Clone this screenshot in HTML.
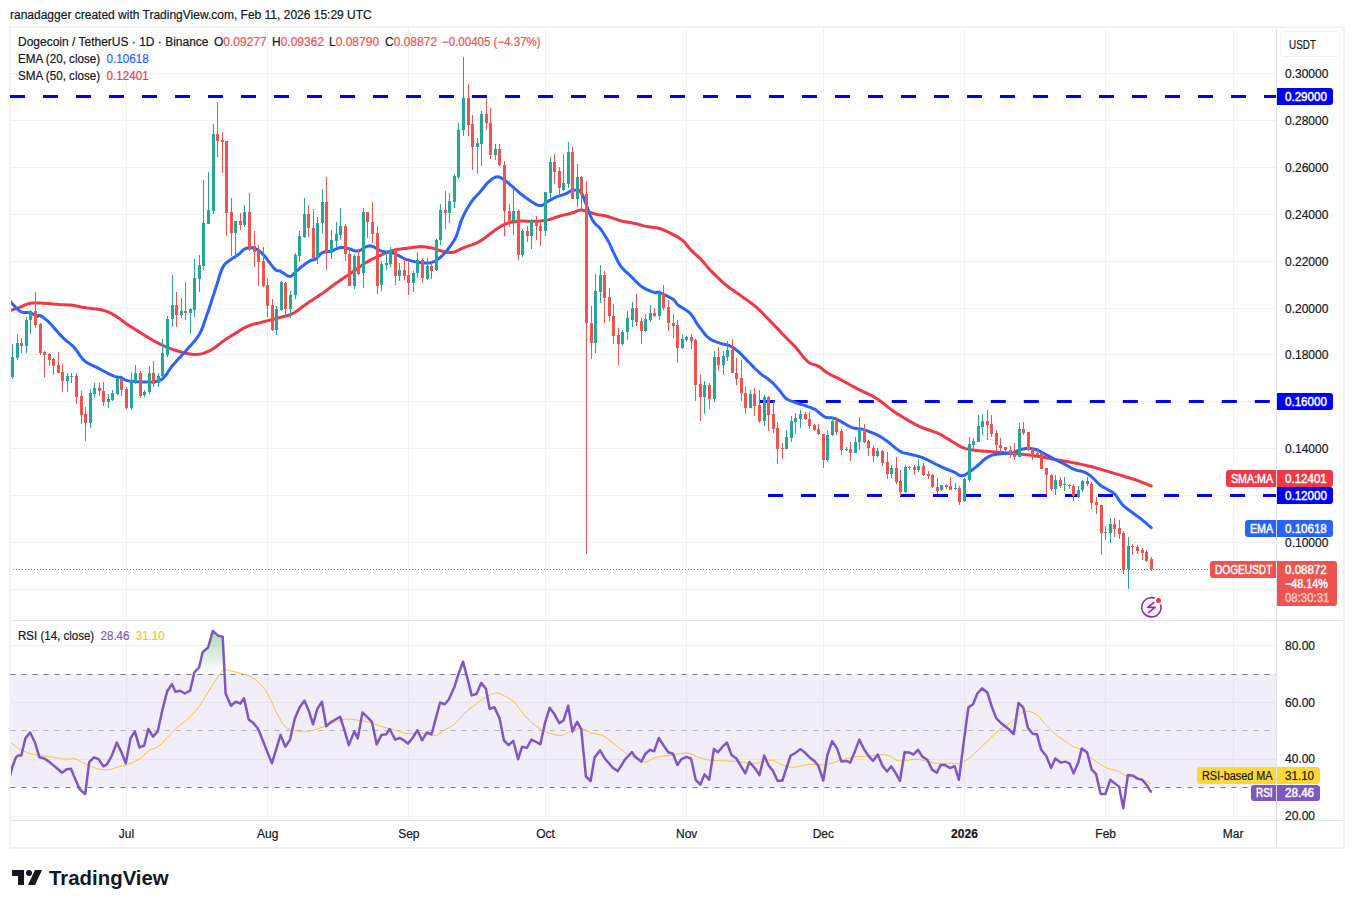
<!DOCTYPE html>
<html><head><meta charset="utf-8"><style>
html,body{margin:0;padding:0;background:#fff;width:1354px;height:908px;overflow:hidden}
body{position:relative;font-family:"Liberation Sans",sans-serif;color:#131722}
.t{position:absolute;white-space:pre;font-size:12px;line-height:14px;-webkit-text-stroke:0.2px currentColor}
.b{position:absolute;white-space:pre;font-size:12px;text-align:center}
svg{position:absolute;left:0;top:0}
.r{color:#ef5350}
</style></head><body>
<div class="t" style="left:10px;top:8px">ranadagger created with TradingView.com, Feb 11, 2026 15:29 UTC</div>
<div style="position:absolute;left:9px;top:26px;width:1332px;height:819px;border:2px solid #f2f2f2"></div>
<svg width="1354" height="908" viewBox="0 0 1354 908">
<line x1="11" x2="1276" y1="73.5" y2="73.5" stroke="#f2f2f3"/>
<line x1="11" x2="1276" y1="120.5" y2="120.5" stroke="#f2f2f3"/>
<line x1="11" x2="1276" y1="167.5" y2="167.5" stroke="#f2f2f3"/>
<line x1="11" x2="1276" y1="214.5" y2="214.5" stroke="#f2f2f3"/>
<line x1="11" x2="1276" y1="261.5" y2="261.5" stroke="#f2f2f3"/>
<line x1="11" x2="1276" y1="308.5" y2="308.5" stroke="#f2f2f3"/>
<line x1="11" x2="1276" y1="354.5" y2="354.5" stroke="#f2f2f3"/>
<line x1="11" x2="1276" y1="401.5" y2="401.5" stroke="#f2f2f3"/>
<line x1="11" x2="1276" y1="448.5" y2="448.5" stroke="#f2f2f3"/>
<line x1="11" x2="1276" y1="495.5" y2="495.5" stroke="#f2f2f3"/>
<line x1="11" x2="1276" y1="542.5" y2="542.5" stroke="#f2f2f3"/>
<line x1="11" x2="1276" y1="589.5" y2="589.5" stroke="#f2f2f3"/>
<line x1="11" x2="1276" y1="645.5" y2="645.5" stroke="#f2f2f3"/>
<line x1="11" x2="1276" y1="702.5" y2="702.5" stroke="#f2f2f3"/>
<line x1="11" x2="1276" y1="759.5" y2="759.5" stroke="#f2f2f3"/>
<line x1="11" x2="1276" y1="816.5" y2="816.5" stroke="#f2f2f3"/>
<line x1="126.5" x2="126.5" y1="27" y2="820" stroke="#f2f2f3"/>
<line x1="267.5" x2="267.5" y1="27" y2="820" stroke="#f2f2f3"/>
<line x1="408.5" x2="408.5" y1="27" y2="820" stroke="#f2f2f3"/>
<line x1="545.5" x2="545.5" y1="27" y2="820" stroke="#f2f2f3"/>
<line x1="686.5" x2="686.5" y1="27" y2="820" stroke="#f2f2f3"/>
<line x1="823.5" x2="823.5" y1="27" y2="820" stroke="#f2f2f3"/>
<line x1="964.5" x2="964.5" y1="27" y2="820" stroke="#f2f2f3"/>
<line x1="1105.5" x2="1105.5" y1="27" y2="820" stroke="#f2f2f3"/>
<line x1="1233.5" x2="1233.5" y1="27" y2="820" stroke="#f2f2f3"/>
<rect x="11" y="674" width="1265" height="113" fill="#7e57c2" fill-opacity="0.1"/>
<line x1="10.5" x2="1276" y1="674.5" y2="674.5" stroke="#787b86" stroke-opacity="1" stroke-dasharray="5 6"/>
<line x1="10.5" x2="1276" y1="730.5" y2="730.5" stroke="#787b86" stroke-opacity="0.5" stroke-dasharray="5 6"/>
<line x1="10.5" x2="1276" y1="787.5" y2="787.5" stroke="#787b86" stroke-opacity="1" stroke-dasharray="5 6"/>
<line x1="10" x2="1276" y1="96.5" y2="96.5" stroke="#0000ff" stroke-width="3" stroke-dasharray="15 18"/>
<line x1="759.8" x2="1276" y1="401.5" y2="401.5" stroke="#0000ff" stroke-width="3" stroke-dasharray="15 18"/>
<line x1="768" x2="1276" y1="495.5" y2="495.5" stroke="#0000ff" stroke-width="3" stroke-dasharray="15 18"/>
<line x1="13" x2="1209" y1="569.5" y2="569.5" stroke="#ef5350" stroke-dasharray="1 2"/>
<defs><clipPath id="mainclip"><rect x="11" y="28" width="1265" height="592"/></clipPath><clipPath id="rsiclip"><rect x="11" y="621" width="1265" height="199"/></clipPath></defs>
<g clip-path="url(#mainclip)">
<polyline points="10,310.6 10.9,310.3 12.2,309.9 13.7,309.4 15.4,308.9 17.2,308.3 18.9,307.6 20.7,306.9 22.6,306.1 24.5,305.2 26.5,304.4 28.6,303.7 30.8,303.2 33.1,302.9 35.6,302.9 38.1,303 40.6,303.1 43.2,303.3 45.7,303.5 48.2,303.6 50.8,303.8 53.3,304.1 55.8,304.3 58.3,304.5 60.6,304.7 62.7,304.8 64.8,304.8 66.7,304.9 68.6,305 70.5,305.1 72.5,305.3 74.4,305.6 76.2,305.9 78,306.3 80,306.8 82,307.2 84.4,307.6 87.1,308 90.1,308.3 93.3,308.7 96.5,309 99.5,309.5 102.2,310 104.5,310.6 106.5,311.3 108.3,312.1 110.1,312.9 112,313.9 114.1,315.1 116.4,316.5 119,318.3 121.5,320.1 124.1,322 126.6,323.9 129,325.5 131.1,326.9 133.1,328.1 134.9,329.3 136.8,330.4 138.8,331.6 140.9,332.9 143.2,334.4 145.6,335.9 148.1,337.4 150.7,339 153.2,340.5 155.7,341.9 158.2,343.1 160.6,344.4 163,345.5 165.4,346.6 168,347.7 170.6,348.7 173.5,349.7 176.6,350.7 179.7,351.6 182.8,352.5 185.8,353.2 188.5,353.7 190.8,354.1 192.9,354.4 194.8,354.5 196.6,354.5 198.4,354.3 200.4,354 202.3,353.6 204.3,353 206.3,352.2 208.3,351.4 210.3,350.4 212.3,349.3 214.2,348 216.2,346.6 218.2,345 220.2,343.4 222.2,341.8 224.2,340.4 226.1,339 228.1,337.8 230.1,336.5 232.1,335.3 234.1,334.1 236.1,332.9 238,331.7 239.9,330.5 241.8,329.3 243.8,328.1 245.8,327.1 248,326.1 250.3,325.2 252.7,324.5 255.2,323.8 257.8,323.2 260.3,322.6 262.8,321.9 265.3,321.3 267.8,320.6 270.3,320 272.7,319.4 275.2,318.7 277.7,318.1 280.2,317.4 282.7,316.8 285.1,316.2 287.6,315.5 290.1,314.7 292.6,313.6 295,312.2 297.5,310.5 300,308.7 302.5,306.8 305,305 307.4,303.2 309.9,301.5 312.4,299.9 314.9,298.3 317.4,296.7 319.8,295.1 322.3,293.4 324.8,291.6 327.3,289.7 329.8,287.9 332.2,286 334.7,284.1 337.2,282.4 339.6,280.7 342.1,279 344.5,277.4 347,275.8 349.4,274.2 351.9,272.5 354.4,270.8 357,268.9 359.5,267.1 362,265.3 364.5,263.6 366.8,262.1 368.9,260.9 370.8,259.8 372.7,258.9 374.6,258 376.5,257.1 378.7,256.2 381,255.1 383.4,254 385.9,252.9 388.5,251.9 391,251 393.5,250.2 396.1,249.6 398.6,249.2 401.2,248.9 403.7,248.6 406.1,248.4 408.4,248.1 410.6,247.8 412.6,247.5 414.5,247.2 416.5,246.9 418.4,246.7 420.3,246.6 422.3,246.7 424.3,246.8 426.3,247.1 428.2,247.4 430.2,247.7 432.2,248.1 434.2,248.6 436.3,249.3 438.3,250 440.4,250.6 442.3,251.2 444.1,251.7 445.7,252 447.2,252.3 448.6,252.5 449.9,252.6 451.4,252.6 453,252.3 454.8,251.8 456.7,251.1 458.6,250.2 460.6,249.2 462.7,248.2 464.9,247.2 467.2,246.4 469.4,245.6 471.8,244.9 474.3,244 476.9,242.8 479.8,241.3 483,239.2 486.5,236.6 490.2,233.8 493.9,231 497.4,228.4 500.6,226.4 503.4,224.9 506,223.8 508.4,223 510.8,222.3 513.1,221.8 515.5,221.4 518,221.1 520.4,221 522.9,221.1 525.4,221.2 527.9,221.3 530.4,221.4 532.8,221.3 535.3,221.3 537.8,221.2 540.3,221.1 542.8,220.8 545.2,220.5 547.7,219.9 550.3,219.2 552.9,218.4 555.4,217.5 557.8,216.7 560.1,216 562.3,215.4 564.4,214.9 566.4,214.4 568.4,214 570.2,213.5 572,213 573.7,212.5 575.2,211.8 576.7,211.2 578.1,210.6 579.5,210.2 580.9,210.1 582.4,210.1 583.9,210.5 585.5,210.9 587,211.5 588.4,212 589.9,212.4 591.2,212.8 592.5,213.2 593.8,213.6 595,214 596.3,214.3 597.7,214.6 599.1,214.9 600.5,215.1 602,215.3 603.5,215.5 605.1,215.8 607,216.2 609,216.8 611.2,217.6 613.6,218.4 616,219.3 618.5,220.1 620.8,220.8 623.2,221.4 625.5,221.8 627.9,222.2 630.2,222.6 632.5,223 634.7,223.4 636.9,223.9 638.9,224.5 641,225 643,225.6 645,226.1 647.1,226.5 649.1,226.9 651.2,227.1 653.2,227.4 655.3,227.6 657.3,228 659.4,228.5 661.5,229.2 663.6,230 665.7,230.9 667.7,231.9 669.8,232.9 671.7,233.9 673.6,234.9 675.5,235.9 677.3,236.8 679.1,237.9 680.8,239.1 682.5,240.4 684.2,241.9 685.7,243.7 687.2,245.5 688.7,247.4 690.2,249.2 691.8,250.9 693.3,252.4 694.9,253.8 696.4,255.1 697.9,256.4 699.5,257.8 701,259.4 702.5,261 703.9,262.7 705.3,264.4 706.7,266.2 708.4,268.1 710.3,270.2 712.5,272.4 715,274.9 717.7,277.5 720.4,280.1 723.1,282.6 725.7,284.8 728.1,286.7 730.4,288.5 732.7,290.1 735,291.7 737.3,293.2 739.6,294.8 741.9,296.5 744.4,298.2 746.8,299.9 749.2,301.6 751.4,303.3 753.5,304.9 755.1,306.2 756.4,307.2 757.5,308.2 758.7,309.4 760.4,311 762.7,313.3 766,316.7 770,320.9 774.4,325.5 778.9,330.1 782.9,334.4 786.2,337.7 788.5,340.1 790.2,341.7 791.5,343 792.6,344.1 793.9,345.3 795.4,347 797.3,349.2 799.4,351.8 801.5,354.6 803.6,357.3 805.8,359.7 807.8,361.6 809.7,363 811.5,363.8 813.3,364.4 815.1,364.9 816.9,365.5 818.6,366.3 820.1,367.3 821.6,368.4 823,369.6 824.4,370.8 826,372 827.8,373.2 829.8,374.3 832,375.5 834.4,376.6 836.8,377.7 839.2,378.9 841.7,380.1 844.1,381.5 846.6,382.8 849.1,384.2 851.7,385.7 854.3,387.1 857.1,388.6 860,390.1 863.2,391.6 866.4,393.1 869.6,394.6 872.7,396.2 875.6,397.9 878.4,399.7 881.2,401.8 883.9,403.8 886.5,405.9 888.8,407.8 891,409.4 892.8,410.7 894.2,411.7 895.5,412.6 896.7,413.4 898.3,414.4 900.3,415.6 902.9,417.2 905.9,419 909.1,420.9 912.5,422.8 915.8,424.6 918.8,426.1 921.6,427.4 924.5,428.5 927.3,429.5 929.9,430.3 932.2,431.1 934.2,431.8 935.7,432.3 936.7,432.7 937.5,433 938.1,433.3 938.9,433.6 940,434.2 941.3,434.9 942.8,435.8 944.3,436.7 946,437.8 947.7,438.8 949.6,439.9 951.6,441.2 953.9,442.5 956.2,444 958.6,445.4 960.9,446.6 963,447.6 965.1,448.4 967,448.9 968.8,449.4 970.7,449.7 972.6,450 974.6,450.3 976.7,450.6 979,450.8 981.4,451 983.7,451.2 986,451.3 988,451.5 989.8,451.6 991.3,451.7 992.7,451.8 994.1,452 995.7,452.1 997.6,452.2 999.9,452.4 1002.4,452.6 1005,452.8 1007.8,453 1010.4,453.2 1013,453.4 1015.3,453.6 1017.6,453.8 1019.8,454 1022,454.2 1024.2,454.5 1026.4,454.7 1028.6,455 1030.8,455.3 1033,455.6 1035.2,455.9 1037.5,456.3 1039.8,456.6 1042.3,457.1 1044.7,457.5 1047.2,458 1049.7,458.5 1052.4,459 1055.2,459.5 1058.2,460.1 1061.5,460.6 1064.8,461.2 1068.2,461.8 1071.4,462.4 1074.4,463 1077.2,463.5 1079.9,464.1 1082.4,464.6 1084.9,465.1 1087.4,465.7 1089.8,466.2 1092.1,466.8 1094.2,467.4 1096.2,468 1098.4,468.6 1100.7,469.3 1103.2,470.1 1106.1,470.9 1109.3,471.9 1112.7,472.9 1116.1,473.9 1119.4,474.9 1122.4,475.8 1125.2,476.7 1127.9,477.5 1130.5,478.3 1132.9,479 1135.4,479.8 1137.8,480.6 1140.3,481.6 1142.9,482.6 1145.5,483.6 1147.8,484.6 1149.8,485.4 1151.2,486" fill="none" stroke="#f23645" stroke-width="3" stroke-linejoin="round" stroke-linecap="round"/>
<polyline points="10,301.1 10.6,301.8 11.5,302.9 12.6,304.1 13.7,305.4 14.9,306.6 15.9,307.6 16.9,308.5 17.8,309.4 18.7,310.2 19.7,311 20.7,311.6 21.9,312.1 23.2,312.4 24.8,312.6 26.4,312.6 28,312.6 29.5,312.7 30.8,313 32,313.5 33.1,314.2 34.2,314.9 35.1,315.6 36,316.2 36.8,316.6 37.4,316.6 37.8,316.3 38.2,315.8 38.6,315.5 39.2,315.3 40,315.5 41.1,316.1 42.4,316.9 43.8,317.8 45.4,319.1 47.1,320.5 48.9,322.2 50.8,324.2 53,326.6 55.3,329.3 57.7,332 60,334.6 62.2,336.9 64.2,338.9 66.3,340.6 68.2,342.2 70.2,343.8 72.1,345.4 74,347.3 75.7,349.4 77.4,351.7 79,354.1 80.6,356.4 82.4,358.6 84.3,360.6 86.5,362.2 88.9,363.7 91.4,365 94,366.2 96.6,367.4 99.1,368.7 101.6,370 104.3,371.4 106.9,372.8 109.5,374.1 111.8,375.2 113.9,376.1 115.5,376.6 116.9,376.9 118.1,377.1 119.2,377.2 120.2,377.3 121.2,377.5 122.2,378 122.9,378.5 123.6,379 124.5,379.6 125.6,380.1 127.1,380.5 129.2,380.9 131.7,381.2 134.5,381.6 137.5,381.8 140.5,382 143.4,382 146.3,382 149.4,382 152.5,381.9 155.6,381.6 158.5,380.9 161.1,379.8 163.4,378 165.4,375.8 167.2,373.3 169,370.5 170.9,367.7 172.9,365 175.3,362.4 177.8,359.6 180.3,356.9 182.9,354.1 185.4,351.4 187.7,348.7 189.9,346.2 192,343.9 194.1,341.5 196,339.2 197.8,336.7 199.5,334 201,331.1 202.3,328.1 203.4,325 204.5,321.8 205.7,318.4 206.9,314.8 208.3,310.9 209.7,306.8 211.1,302.5 212.5,298.1 213.9,293.9 215.2,289.8 216.5,285.8 217.8,281.6 219,277.5 220.2,273.7 221.4,270.3 222.7,267.5 223.9,265.4 225.1,263.9 226.3,262.7 227.5,261.9 228.8,261 230.1,260.1 231.5,259 233.1,257.9 234.7,256.9 236.2,256 237.7,255 239,254.1 240.2,253.1 241.1,252.1 242,251.1 242.9,250.2 243.9,249.4 245,248.8 246.3,248.3 247.7,248 249.3,247.7 250.8,247.7 252.4,247.8 253.9,248.2 255.4,248.7 256.8,249.3 258.2,250.2 259.6,251.2 261.2,252.5 262.8,254.1 264.7,256.2 266.8,258.9 269,261.8 271.1,264.6 273.1,267.1 274.7,269 276,270.1 277,270.6 277.9,270.8 278.7,270.8 279.6,270.9 280.7,271.4 282,272.2 283.5,273.2 285.1,274.3 286.7,275.3 288.2,276.1 289.6,276.4 290.7,276.3 291.7,275.7 292.6,275 293.5,274 294.4,273 295.5,272 296.9,270.8 298.4,269.6 300,268.2 301.6,266.8 303.1,265.6 304.5,264.5 305.6,263.6 306.7,262.9 307.6,262.2 308.5,261.7 309.5,261.1 310.4,260.6 311.4,260.2 312.4,260 313.4,259.7 314.4,259.5 315.4,259.1 316.4,258.6 317.3,257.7 318.2,256.7 319.2,255.6 320.1,254.4 321.2,253.4 322.3,252.6 323.6,252.1 325.1,251.9 326.6,251.7 328.2,251.6 329.7,251.4 331.2,251.1 332.7,250.6 334.2,249.9 335.7,249.2 337.2,248.5 338.7,247.9 340.2,247.6 341.6,247.5 343.1,247.6 344.5,247.8 346,248.1 347.5,248.4 348.9,248.7 350.4,249.1 351.8,249.7 353.2,250.3 354.6,250.8 356.2,251.1 357.8,251.1 359.7,250.5 361.6,249.5 363.6,248.2 365.7,247 367.7,246.1 369.7,245.7 371.7,246.1 373.7,246.9 375.7,248 377.7,249.2 379.7,250.3 381.6,251.1 383.6,251.6 385.6,251.9 387.6,252.1 389.6,252.3 391.6,252.6 393.5,253.2 395.5,254 397.5,255 399.5,256.1 401.5,257.2 403.5,258.3 405.4,259.1 407.4,259.8 409.4,260.4 411.4,260.9 413.4,261.4 415.4,261.8 417.3,262.1 419.4,262.4 421.4,262.7 423.5,263 425.5,263.1 427.4,263.1 429.2,263 430.9,262.7 432.4,262.2 433.9,261.7 435.3,261 436.7,260.1 438.2,259.1 439.6,258 441.1,256.7 442.6,255.3 444.1,253.7 445.6,252 447.1,250.2 448.6,248.3 450.2,246.2 451.7,244.1 453.2,241.8 454.7,239.4 456,236.8 457.1,234.1 458.1,231.1 459,228.1 459.9,225 460.8,221.9 462,219 463.3,216.1 464.7,213.2 466.2,210.3 467.8,207.6 469.4,205 470.9,202.6 472.4,200.5 473.8,198.7 475.3,197 476.8,195.5 478.3,193.9 479.8,192.2 481.3,190.4 482.8,188.5 484.3,186.7 485.7,184.9 487.2,183.2 488.7,181.8 490.2,180.5 491.7,179.3 493.2,178.3 494.7,177.5 496.2,176.9 497.6,176.7 499.1,177 500.6,177.6 502.1,178.5 503.6,179.6 505.1,180.7 506.6,181.8 508.1,182.9 509.5,184.1 511,185.4 512.5,186.7 514,188 515.5,189.2 516.9,190.5 518.2,191.7 519.6,192.9 521,194.1 522.6,195.3 524.4,196.7 526.6,198.2 529.2,200 531.9,201.9 534.5,203.6 537.1,204.9 539.3,205.6 541.1,205.6 542.7,205.1 544.1,204.2 545.5,203.1 546.8,202 548.2,201.1 549.7,200.4 551.2,199.6 552.7,198.8 554.2,198 555.6,197.3 557.1,196.7 558.7,196.1 560.2,195.6 561.8,195.1 563.3,194.6 564.7,194.2 566.1,193.7 567.2,193.1 568.1,192.5 569,191.9 569.9,191.4 570.9,191 572,190.7 573.3,190.5 574.8,190.1 576.3,189.9 577.8,190 579.4,190.7 580.9,192.2 582.5,194.9 584.1,198.6 585.6,202.9 587.2,207.3 588.6,211.3 589.9,214.5 590.9,216.8 591.7,218.5 592.4,219.8 593.1,220.9 593.8,222 594.6,223.1 595.6,224.2 596.5,225.1 597.5,226 598.6,226.9 599.7,227.9 600.8,229.3 602,231 603.4,233 604.7,235.2 606.1,237.5 607.4,239.6 608.5,241.6 609.4,243.4 610.2,245 610.8,246.5 611.5,248.1 612.2,249.7 613.1,251.7 614.2,253.9 615.4,256.4 616.7,259 618,261.7 619.4,264.1 620.8,266.3 622.3,268.1 623.7,269.7 625.2,271.1 626.7,272.5 628.4,273.9 630.1,275.6 632,277.4 634,279.5 636.1,281.6 638.2,283.6 640.3,285.5 642.4,287.1 644.6,288.4 646.8,289.6 649.1,290.5 651.2,291.4 653.2,292 654.8,292.5 655.9,292.8 656.5,292.7 657,292.4 657.4,292.2 658.2,292.2 659.4,292.5 661.3,293.3 663.7,294.4 666.3,295.7 669,297 671.4,298.3 673.3,299.5 674.5,300.4 675.2,301.3 675.7,302.1 676.1,302.9 676.8,303.8 677.9,304.9 679.6,306.1 681.6,307.3 683.9,308.7 686.2,310.2 688.4,311.7 690.2,313.3 691.7,315.1 693,316.9 694.2,318.8 695.3,320.8 696.5,322.9 697.9,324.9 699.5,327.1 701.3,329.4 703.1,331.8 704.9,334.2 706.8,336.3 708.7,338 710.7,339.4 712.7,340.5 714.8,341.4 716.8,342.1 718.7,342.7 720.6,343.4 722.2,343.9 723.8,344.2 725.2,344.5 726.6,344.8 728,345.2 729.5,345.7 731,346.5 732.5,347.4 734,348.3 735.4,349.4 736.9,350.5 738.4,351.7 739.9,353 741.3,354.3 742.7,355.8 744.1,357.3 745.7,358.9 747.3,360.6 749.1,362.5 751.1,364.5 753.1,366.6 755.2,368.7 757.2,370.7 759.2,372.5 761.3,374.2 763.3,375.7 765.4,377.1 767.4,378.5 769.3,380 771.1,381.4 772.8,383 774.4,384.6 775.9,386.3 777.4,387.9 778.7,389.4 780,390.9 781.1,392.4 782.1,393.8 783.1,395.1 784,396.4 785,397.6 786.2,398.6 787.5,399.5 789,400.2 790.5,400.8 792.1,401.4 793.8,401.9 795.4,402.5 797.1,403.1 799,403.7 800.8,404.3 802.7,404.9 804.5,405.4 806.2,406 807.8,406.6 809.4,407.1 810.9,407.7 812.4,408.3 813.9,408.9 815.5,409.7 817,410.8 818.6,412.1 820.2,413.5 821.7,414.8 823.3,416 824.7,416.8 826.1,417.4 827.5,417.6 828.8,417.7 830,417.7 831.3,417.7 832.4,417.9 833.5,418.2 834.4,418.4 835.2,418.7 836.1,419.1 837.2,419.6 838.6,420.2 840.4,421.2 842.5,422.4 844.8,423.7 847,425.1 849.2,426.3 850.9,427.2 852.3,427.7 853.4,428.1 854.4,428.3 855.3,428.5 856.1,428.6 857.1,428.7 858,428.8 858.9,428.9 859.7,428.9 860.6,428.9 861.8,429.1 863.3,429.5 865.2,430.1 867.4,430.9 869.9,431.8 872.5,432.8 874.9,433.8 877.1,434.9 879.1,435.9 880.9,437 882.6,438.1 884.3,439.3 886.1,440.5 887.9,441.8 889.9,443.3 892,445.1 894.1,446.8 896.2,448.6 898.3,450.1 900.3,451.4 902.1,452.3 903.9,452.9 905.7,453.3 907.4,453.6 909.2,454 911.1,454.5 913,455 914.9,455.4 916.9,455.9 918.9,456.5 921.1,457.1 923.4,458 926,459.2 929,460.6 932,462.1 935,463.7 937.7,465.1 940,466.2 941.8,467.1 943.2,467.7 944.4,468.2 945.5,468.6 946.5,469 947.7,469.5 949,470 950.4,470.6 951.8,471.1 953.1,471.6 954.3,472.1 955.4,472.6 956.2,473.1 956.9,473.6 957.5,474.1 958,474.6 958.6,475 959.2,475.3 959.9,475.5 960.7,475.6 961.4,475.7 962.2,475.7 963.1,475.5 964,475.3 965,474.8 966.1,474.2 967.2,473.5 968.3,472.8 969.5,471.9 970.7,471 971.9,470.1 973.2,469.2 974.5,468.1 975.8,467.1 977.1,466 978.4,464.9 979.7,463.8 981,462.6 982.2,461.4 983.5,460.2 984.8,459.1 986.1,458.2 987.3,457.4 988.5,456.7 989.7,456.1 990.9,455.6 992.3,455.1 993.8,454.7 995.5,454.4 997.5,454.1 999.5,453.9 1001.6,453.7 1003.5,453.5 1005.3,453.4 1006.8,453.3 1008.1,453.2 1009.4,453.2 1010.5,453.2 1011.7,453 1013,452.8 1014.2,452.4 1015.5,451.8 1016.8,451.2 1018.1,450.6 1019.4,450 1020.6,449.5 1021.9,449.2 1023.2,448.9 1024.5,448.7 1025.8,448.5 1027,448.4 1028.3,448.4 1029.6,448.4 1030.9,448.5 1032.2,448.7 1033.4,448.9 1034.7,449.2 1036,449.5 1037.2,450 1038.4,450.5 1039.6,451.1 1040.8,451.8 1042.2,452.6 1043.7,453.4 1045.4,454.3 1047.3,455.3 1049.3,456.4 1051.4,457.5 1053.4,458.6 1055.2,459.5 1056.9,460.4 1058.5,461.2 1060.1,462 1061.7,462.7 1063.2,463.5 1064.8,464.3 1066.4,465.2 1068,466.1 1069.6,467.1 1071.2,468 1072.8,468.8 1074.4,469.5 1076,470.1 1077.7,470.5 1079.3,470.8 1081,471.1 1082.5,471.5 1084,472 1085.4,472.6 1086.7,473.3 1088,474.1 1089.2,474.9 1090.4,475.8 1091.7,476.8 1093,478 1094.2,479.3 1095.5,480.6 1096.8,482 1098.1,483.3 1099.4,484.5 1100.7,485.5 1101.9,486.3 1103.2,487.1 1104.5,487.8 1105.8,488.5 1107.1,489.3 1108.3,490 1109.6,490.7 1110.9,491.3 1112.2,492.1 1113.5,493 1114.7,494.1 1116,495.5 1117.2,497.3 1118.5,499.2 1119.7,501.1 1121,503 1122.4,504.6 1123.9,506.1 1125.5,507.4 1127.1,508.7 1128.7,509.9 1130.4,511.1 1132,512.3 1133.6,513.5 1135.2,514.7 1136.8,515.8 1138.4,517 1140,518.2 1141.6,519.4 1143.3,520.8 1145.2,522.4 1147,524 1148.7,525.5 1150.2,526.8 1151.2,527.7" fill="none" stroke="#2962ff" stroke-width="3" stroke-linejoin="round" stroke-linecap="round"/>
<rect x="12" y="344" width="1" height="35" fill="#26a69a"/>
<rect x="11" y="357" width="3" height="20" fill="#26a69a"/>
<rect x="17" y="334" width="1" height="26" fill="#26a69a"/>
<rect x="16" y="343" width="3" height="15" fill="#26a69a"/>
<rect x="21" y="338" width="1" height="15" fill="#ef5350"/>
<rect x="20" y="343" width="3" height="3" fill="#ef5350"/>
<rect x="26" y="317" width="1" height="36" fill="#26a69a"/>
<rect x="25" y="320" width="3" height="26" fill="#26a69a"/>
<rect x="30" y="310" width="1" height="24" fill="#26a69a"/>
<rect x="29" y="311" width="3" height="9" fill="#26a69a"/>
<rect x="35" y="292" width="1" height="36" fill="#ef5350"/>
<rect x="34" y="311" width="3" height="14" fill="#ef5350"/>
<rect x="40" y="323" width="1" height="32" fill="#ef5350"/>
<rect x="39" y="324" width="3" height="29" fill="#ef5350"/>
<rect x="44" y="351" width="1" height="26" fill="#ef5350"/>
<rect x="43" y="352" width="3" height="3" fill="#ef5350"/>
<rect x="49" y="353" width="1" height="13" fill="#ef5350"/>
<rect x="48" y="354" width="3" height="6" fill="#ef5350"/>
<rect x="53" y="358" width="1" height="17" fill="#ef5350"/>
<rect x="52" y="359" width="3" height="7" fill="#ef5350"/>
<rect x="58" y="352" width="1" height="21" fill="#ef5350"/>
<rect x="57" y="365" width="3" height="8" fill="#ef5350"/>
<rect x="62" y="364" width="1" height="28" fill="#ef5350"/>
<rect x="61" y="372" width="3" height="9" fill="#ef5350"/>
<rect x="67" y="373" width="1" height="19" fill="#26a69a"/>
<rect x="66" y="376" width="3" height="5" fill="#26a69a"/>
<rect x="71" y="373" width="1" height="10" fill="#26a69a"/>
<rect x="70" y="376" width="3" height="1" fill="#26a69a"/>
<rect x="76" y="373" width="1" height="31" fill="#ef5350"/>
<rect x="75" y="376" width="3" height="21" fill="#ef5350"/>
<rect x="81" y="391" width="1" height="33" fill="#ef5350"/>
<rect x="80" y="396" width="3" height="19" fill="#ef5350"/>
<rect x="85" y="407" width="1" height="34" fill="#ef5350"/>
<rect x="84" y="414" width="3" height="9" fill="#ef5350"/>
<rect x="90" y="389" width="1" height="39" fill="#26a69a"/>
<rect x="89" y="393" width="3" height="30" fill="#26a69a"/>
<rect x="94" y="383" width="1" height="15" fill="#26a69a"/>
<rect x="93" y="388" width="3" height="6" fill="#26a69a"/>
<rect x="99" y="383" width="1" height="13" fill="#ef5350"/>
<rect x="98" y="388" width="3" height="3" fill="#ef5350"/>
<rect x="103" y="382" width="1" height="24" fill="#ef5350"/>
<rect x="102" y="391" width="3" height="11" fill="#ef5350"/>
<rect x="108" y="394" width="1" height="14" fill="#26a69a"/>
<rect x="107" y="399" width="3" height="3" fill="#26a69a"/>
<rect x="112" y="390" width="1" height="11" fill="#26a69a"/>
<rect x="111" y="393" width="3" height="7" fill="#26a69a"/>
<rect x="117" y="378" width="1" height="17" fill="#26a69a"/>
<rect x="116" y="378" width="3" height="16" fill="#26a69a"/>
<rect x="121" y="378" width="1" height="18" fill="#ef5350"/>
<rect x="120" y="379" width="3" height="11" fill="#ef5350"/>
<rect x="126" y="387" width="1" height="22" fill="#ef5350"/>
<rect x="125" y="389" width="3" height="19" fill="#ef5350"/>
<rect x="131" y="372" width="1" height="38" fill="#26a69a"/>
<rect x="130" y="381" width="3" height="27" fill="#26a69a"/>
<rect x="135" y="365" width="1" height="19" fill="#26a69a"/>
<rect x="134" y="373" width="3" height="9" fill="#26a69a"/>
<rect x="140" y="371" width="1" height="27" fill="#ef5350"/>
<rect x="139" y="373" width="3" height="23" fill="#ef5350"/>
<rect x="144" y="390" width="1" height="7" fill="#26a69a"/>
<rect x="143" y="392" width="3" height="3" fill="#26a69a"/>
<rect x="149" y="366" width="1" height="28" fill="#26a69a"/>
<rect x="148" y="373" width="3" height="19" fill="#26a69a"/>
<rect x="153" y="361" width="1" height="26" fill="#ef5350"/>
<rect x="152" y="373" width="3" height="11" fill="#ef5350"/>
<rect x="158" y="373" width="1" height="14" fill="#26a69a"/>
<rect x="157" y="376" width="3" height="7" fill="#26a69a"/>
<rect x="162" y="339" width="1" height="39" fill="#26a69a"/>
<rect x="161" y="353" width="3" height="23" fill="#26a69a"/>
<rect x="167" y="316" width="1" height="41" fill="#26a69a"/>
<rect x="166" y="319" width="3" height="36" fill="#26a69a"/>
<rect x="172" y="275" width="1" height="52" fill="#26a69a"/>
<rect x="171" y="305" width="3" height="14" fill="#26a69a"/>
<rect x="176" y="292" width="1" height="35" fill="#ef5350"/>
<rect x="175" y="305" width="3" height="10" fill="#ef5350"/>
<rect x="181" y="298" width="1" height="20" fill="#26a69a"/>
<rect x="180" y="311" width="3" height="4" fill="#26a69a"/>
<rect x="185" y="282" width="1" height="38" fill="#ef5350"/>
<rect x="184" y="311" width="3" height="2" fill="#ef5350"/>
<rect x="190" y="308" width="1" height="26" fill="#26a69a"/>
<rect x="189" y="309" width="3" height="4" fill="#26a69a"/>
<rect x="194" y="259" width="1" height="58" fill="#26a69a"/>
<rect x="193" y="278" width="3" height="32" fill="#26a69a"/>
<rect x="199" y="255" width="1" height="37" fill="#26a69a"/>
<rect x="198" y="265" width="3" height="14" fill="#26a69a"/>
<rect x="203" y="180" width="1" height="90" fill="#26a69a"/>
<rect x="202" y="223" width="3" height="43" fill="#26a69a"/>
<rect x="208" y="172" width="1" height="52" fill="#26a69a"/>
<rect x="207" y="210" width="3" height="14" fill="#26a69a"/>
<rect x="213" y="124" width="1" height="90" fill="#26a69a"/>
<rect x="212" y="134" width="3" height="77" fill="#26a69a"/>
<rect x="217" y="102" width="1" height="55" fill="#ef5350"/>
<rect x="216" y="134" width="3" height="7" fill="#ef5350"/>
<rect x="222" y="132" width="1" height="41" fill="#ef5350"/>
<rect x="221" y="140" width="3" height="2" fill="#ef5350"/>
<rect x="226" y="141" width="1" height="95" fill="#ef5350"/>
<rect x="225" y="141" width="3" height="72" fill="#ef5350"/>
<rect x="231" y="198" width="1" height="58" fill="#ef5350"/>
<rect x="230" y="212" width="3" height="21" fill="#ef5350"/>
<rect x="235" y="221" width="1" height="38" fill="#26a69a"/>
<rect x="234" y="221" width="3" height="12" fill="#26a69a"/>
<rect x="240" y="213" width="1" height="17" fill="#ef5350"/>
<rect x="239" y="221" width="3" height="4" fill="#ef5350"/>
<rect x="244" y="205" width="1" height="22" fill="#26a69a"/>
<rect x="243" y="212" width="3" height="13" fill="#26a69a"/>
<rect x="249" y="193" width="1" height="58" fill="#ef5350"/>
<rect x="248" y="212" width="3" height="38" fill="#ef5350"/>
<rect x="254" y="231" width="1" height="36" fill="#ef5350"/>
<rect x="253" y="246" width="3" height="6" fill="#ef5350"/>
<rect x="258" y="245" width="1" height="41" fill="#ef5350"/>
<rect x="257" y="250" width="3" height="12" fill="#ef5350"/>
<rect x="263" y="247" width="1" height="40" fill="#ef5350"/>
<rect x="262" y="261" width="3" height="25" fill="#ef5350"/>
<rect x="267" y="278" width="1" height="39" fill="#ef5350"/>
<rect x="266" y="285" width="3" height="21" fill="#ef5350"/>
<rect x="272" y="299" width="1" height="32" fill="#ef5350"/>
<rect x="271" y="305" width="3" height="25" fill="#ef5350"/>
<rect x="276" y="306" width="1" height="29" fill="#26a69a"/>
<rect x="275" y="309" width="3" height="21" fill="#26a69a"/>
<rect x="281" y="281" width="1" height="30" fill="#26a69a"/>
<rect x="280" y="282" width="3" height="28" fill="#26a69a"/>
<rect x="285" y="282" width="1" height="34" fill="#ef5350"/>
<rect x="284" y="283" width="3" height="26" fill="#ef5350"/>
<rect x="290" y="291" width="1" height="27" fill="#26a69a"/>
<rect x="289" y="295" width="3" height="14" fill="#26a69a"/>
<rect x="295" y="253" width="1" height="46" fill="#26a69a"/>
<rect x="294" y="255" width="3" height="40" fill="#26a69a"/>
<rect x="299" y="231" width="1" height="31" fill="#26a69a"/>
<rect x="298" y="236" width="3" height="20" fill="#26a69a"/>
<rect x="304" y="198" width="1" height="40" fill="#26a69a"/>
<rect x="303" y="214" width="3" height="23" fill="#26a69a"/>
<rect x="308" y="205" width="1" height="32" fill="#ef5350"/>
<rect x="307" y="214" width="3" height="14" fill="#ef5350"/>
<rect x="313" y="209" width="1" height="49" fill="#ef5350"/>
<rect x="312" y="228" width="3" height="30" fill="#ef5350"/>
<rect x="317" y="217" width="1" height="47" fill="#26a69a"/>
<rect x="316" y="223" width="3" height="35" fill="#26a69a"/>
<rect x="322" y="189" width="1" height="44" fill="#26a69a"/>
<rect x="321" y="202" width="3" height="21" fill="#26a69a"/>
<rect x="326" y="177" width="1" height="93" fill="#ef5350"/>
<rect x="325" y="202" width="3" height="50" fill="#ef5350"/>
<rect x="331" y="230" width="1" height="29" fill="#26a69a"/>
<rect x="330" y="240" width="3" height="13" fill="#26a69a"/>
<rect x="336" y="222" width="1" height="25" fill="#26a69a"/>
<rect x="335" y="234" width="3" height="7" fill="#26a69a"/>
<rect x="340" y="208" width="1" height="32" fill="#26a69a"/>
<rect x="339" y="226" width="3" height="9" fill="#26a69a"/>
<rect x="345" y="224" width="1" height="37" fill="#ef5350"/>
<rect x="344" y="226" width="3" height="28" fill="#ef5350"/>
<rect x="349" y="247" width="1" height="39" fill="#ef5350"/>
<rect x="348" y="254" width="3" height="32" fill="#ef5350"/>
<rect x="354" y="254" width="1" height="35" fill="#26a69a"/>
<rect x="353" y="256" width="3" height="30" fill="#26a69a"/>
<rect x="358" y="250" width="1" height="25" fill="#ef5350"/>
<rect x="357" y="256" width="3" height="18" fill="#ef5350"/>
<rect x="363" y="208" width="1" height="80" fill="#26a69a"/>
<rect x="362" y="212" width="3" height="61" fill="#26a69a"/>
<rect x="367" y="212" width="1" height="26" fill="#ef5350"/>
<rect x="366" y="212" width="3" height="10" fill="#ef5350"/>
<rect x="372" y="202" width="1" height="41" fill="#ef5350"/>
<rect x="371" y="222" width="3" height="12" fill="#ef5350"/>
<rect x="377" y="226" width="1" height="68" fill="#ef5350"/>
<rect x="376" y="233" width="3" height="53" fill="#ef5350"/>
<rect x="381" y="261" width="1" height="30" fill="#26a69a"/>
<rect x="380" y="264" width="3" height="21" fill="#26a69a"/>
<rect x="386" y="251" width="1" height="19" fill="#26a69a"/>
<rect x="385" y="263" width="3" height="2" fill="#26a69a"/>
<rect x="390" y="247" width="1" height="20" fill="#26a69a"/>
<rect x="389" y="250" width="3" height="14" fill="#26a69a"/>
<rect x="395" y="248" width="1" height="37" fill="#ef5350"/>
<rect x="394" y="250" width="3" height="26" fill="#ef5350"/>
<rect x="399" y="263" width="1" height="18" fill="#26a69a"/>
<rect x="398" y="270" width="3" height="6" fill="#26a69a"/>
<rect x="404" y="257" width="1" height="23" fill="#ef5350"/>
<rect x="403" y="270" width="3" height="6" fill="#ef5350"/>
<rect x="408" y="261" width="1" height="34" fill="#ef5350"/>
<rect x="407" y="275" width="3" height="8" fill="#ef5350"/>
<rect x="413" y="271" width="1" height="21" fill="#26a69a"/>
<rect x="412" y="273" width="3" height="10" fill="#26a69a"/>
<rect x="417" y="252" width="1" height="26" fill="#26a69a"/>
<rect x="416" y="260" width="3" height="13" fill="#26a69a"/>
<rect x="422" y="258" width="1" height="25" fill="#ef5350"/>
<rect x="421" y="260" width="3" height="18" fill="#ef5350"/>
<rect x="427" y="258" width="1" height="22" fill="#26a69a"/>
<rect x="426" y="266" width="3" height="13" fill="#26a69a"/>
<rect x="431" y="263" width="1" height="16" fill="#ef5350"/>
<rect x="430" y="266" width="3" height="5" fill="#ef5350"/>
<rect x="436" y="239" width="1" height="32" fill="#26a69a"/>
<rect x="435" y="240" width="3" height="30" fill="#26a69a"/>
<rect x="440" y="204" width="1" height="41" fill="#26a69a"/>
<rect x="439" y="210" width="3" height="30" fill="#26a69a"/>
<rect x="445" y="191" width="1" height="38" fill="#ef5350"/>
<rect x="444" y="210" width="3" height="3" fill="#ef5350"/>
<rect x="449" y="193" width="1" height="30" fill="#26a69a"/>
<rect x="448" y="201" width="3" height="12" fill="#26a69a"/>
<rect x="454" y="174" width="1" height="34" fill="#26a69a"/>
<rect x="453" y="176" width="3" height="26" fill="#26a69a"/>
<rect x="458" y="123" width="1" height="56" fill="#26a69a"/>
<rect x="457" y="130" width="3" height="47" fill="#26a69a"/>
<rect x="463" y="57" width="1" height="79" fill="#26a69a"/>
<rect x="462" y="98" width="3" height="32" fill="#26a69a"/>
<rect x="468" y="84" width="1" height="52" fill="#ef5350"/>
<rect x="467" y="98" width="3" height="27" fill="#ef5350"/>
<rect x="472" y="115" width="1" height="55" fill="#ef5350"/>
<rect x="471" y="124" width="3" height="23" fill="#ef5350"/>
<rect x="477" y="138" width="1" height="36" fill="#26a69a"/>
<rect x="476" y="143" width="3" height="4" fill="#26a69a"/>
<rect x="481" y="111" width="1" height="55" fill="#26a69a"/>
<rect x="480" y="114" width="3" height="30" fill="#26a69a"/>
<rect x="486" y="99" width="1" height="31" fill="#ef5350"/>
<rect x="485" y="114" width="3" height="9" fill="#ef5350"/>
<rect x="490" y="108" width="1" height="51" fill="#ef5350"/>
<rect x="489" y="123" width="3" height="32" fill="#ef5350"/>
<rect x="495" y="144" width="1" height="16" fill="#26a69a"/>
<rect x="494" y="149" width="3" height="6" fill="#26a69a"/>
<rect x="499" y="144" width="1" height="22" fill="#ef5350"/>
<rect x="498" y="149" width="3" height="16" fill="#ef5350"/>
<rect x="504" y="161" width="1" height="75" fill="#ef5350"/>
<rect x="503" y="165" width="3" height="46" fill="#ef5350"/>
<rect x="509" y="204" width="1" height="23" fill="#ef5350"/>
<rect x="508" y="211" width="3" height="10" fill="#ef5350"/>
<rect x="513" y="188" width="1" height="47" fill="#26a69a"/>
<rect x="512" y="211" width="3" height="10" fill="#26a69a"/>
<rect x="518" y="209" width="1" height="51" fill="#ef5350"/>
<rect x="517" y="211" width="3" height="44" fill="#ef5350"/>
<rect x="522" y="229" width="1" height="28" fill="#26a69a"/>
<rect x="521" y="231" width="3" height="24" fill="#26a69a"/>
<rect x="527" y="226" width="1" height="16" fill="#ef5350"/>
<rect x="526" y="231" width="3" height="5" fill="#ef5350"/>
<rect x="531" y="219" width="1" height="30" fill="#26a69a"/>
<rect x="530" y="220" width="3" height="16" fill="#26a69a"/>
<rect x="536" y="216" width="1" height="24" fill="#ef5350"/>
<rect x="535" y="220" width="3" height="6" fill="#ef5350"/>
<rect x="540" y="223" width="1" height="23" fill="#ef5350"/>
<rect x="539" y="226" width="3" height="5" fill="#ef5350"/>
<rect x="545" y="192" width="1" height="44" fill="#26a69a"/>
<rect x="544" y="192" width="3" height="39" fill="#26a69a"/>
<rect x="550" y="157" width="1" height="41" fill="#26a69a"/>
<rect x="549" y="162" width="3" height="31" fill="#26a69a"/>
<rect x="554" y="154" width="1" height="30" fill="#ef5350"/>
<rect x="553" y="162" width="3" height="10" fill="#ef5350"/>
<rect x="559" y="167" width="1" height="30" fill="#ef5350"/>
<rect x="558" y="171" width="3" height="17" fill="#ef5350"/>
<rect x="563" y="154" width="1" height="37" fill="#26a69a"/>
<rect x="562" y="183" width="3" height="7" fill="#26a69a"/>
<rect x="568" y="142" width="1" height="46" fill="#26a69a"/>
<rect x="567" y="152" width="3" height="32" fill="#26a69a"/>
<rect x="572" y="147" width="1" height="52" fill="#ef5350"/>
<rect x="571" y="152" width="3" height="47" fill="#ef5350"/>
<rect x="577" y="164" width="1" height="43" fill="#26a69a"/>
<rect x="576" y="177" width="3" height="22" fill="#26a69a"/>
<rect x="581" y="176" width="1" height="33" fill="#ef5350"/>
<rect x="580" y="177" width="3" height="18" fill="#ef5350"/>
<rect x="586" y="181" width="1" height="373" fill="#ef5350"/>
<rect x="585" y="194" width="3" height="129" fill="#ef5350"/>
<rect x="591" y="306" width="1" height="53" fill="#ef5350"/>
<rect x="590" y="323" width="3" height="20" fill="#ef5350"/>
<rect x="595" y="274" width="1" height="79" fill="#26a69a"/>
<rect x="594" y="291" width="3" height="52" fill="#26a69a"/>
<rect x="600" y="265" width="1" height="38" fill="#26a69a"/>
<rect x="599" y="275" width="3" height="17" fill="#26a69a"/>
<rect x="604" y="271" width="1" height="52" fill="#ef5350"/>
<rect x="603" y="275" width="3" height="23" fill="#ef5350"/>
<rect x="609" y="288" width="1" height="33" fill="#ef5350"/>
<rect x="608" y="297" width="3" height="19" fill="#ef5350"/>
<rect x="613" y="304" width="1" height="40" fill="#ef5350"/>
<rect x="612" y="316" width="3" height="20" fill="#ef5350"/>
<rect x="618" y="328" width="1" height="37" fill="#ef5350"/>
<rect x="617" y="335" width="3" height="9" fill="#ef5350"/>
<rect x="622" y="330" width="1" height="15" fill="#26a69a"/>
<rect x="621" y="332" width="3" height="12" fill="#26a69a"/>
<rect x="627" y="311" width="1" height="29" fill="#26a69a"/>
<rect x="626" y="318" width="3" height="14" fill="#26a69a"/>
<rect x="632" y="302" width="1" height="25" fill="#26a69a"/>
<rect x="631" y="308" width="3" height="12" fill="#26a69a"/>
<rect x="636" y="294" width="1" height="32" fill="#ef5350"/>
<rect x="635" y="308" width="3" height="14" fill="#ef5350"/>
<rect x="641" y="318" width="1" height="26" fill="#ef5350"/>
<rect x="640" y="321" width="3" height="10" fill="#ef5350"/>
<rect x="645" y="314" width="1" height="18" fill="#26a69a"/>
<rect x="644" y="319" width="3" height="12" fill="#26a69a"/>
<rect x="650" y="305" width="1" height="17" fill="#26a69a"/>
<rect x="649" y="313" width="3" height="7" fill="#26a69a"/>
<rect x="654" y="308" width="1" height="9" fill="#ef5350"/>
<rect x="653" y="313" width="3" height="3" fill="#ef5350"/>
<rect x="659" y="290" width="1" height="30" fill="#26a69a"/>
<rect x="658" y="293" width="3" height="23" fill="#26a69a"/>
<rect x="663" y="285" width="1" height="25" fill="#ef5350"/>
<rect x="662" y="293" width="3" height="15" fill="#ef5350"/>
<rect x="668" y="300" width="1" height="31" fill="#ef5350"/>
<rect x="667" y="307" width="3" height="16" fill="#ef5350"/>
<rect x="673" y="314" width="1" height="24" fill="#ef5350"/>
<rect x="672" y="323" width="3" height="3" fill="#ef5350"/>
<rect x="677" y="320" width="1" height="43" fill="#ef5350"/>
<rect x="676" y="325" width="3" height="23" fill="#ef5350"/>
<rect x="682" y="335" width="1" height="14" fill="#26a69a"/>
<rect x="681" y="339" width="3" height="9" fill="#26a69a"/>
<rect x="686" y="336" width="1" height="6" fill="#26a69a"/>
<rect x="685" y="337" width="3" height="3" fill="#26a69a"/>
<rect x="691" y="334" width="1" height="15" fill="#ef5350"/>
<rect x="690" y="337" width="3" height="4" fill="#ef5350"/>
<rect x="695" y="339" width="1" height="62" fill="#ef5350"/>
<rect x="694" y="340" width="3" height="45" fill="#ef5350"/>
<rect x="700" y="375" width="1" height="46" fill="#ef5350"/>
<rect x="699" y="384" width="3" height="13" fill="#ef5350"/>
<rect x="704" y="381" width="1" height="33" fill="#26a69a"/>
<rect x="703" y="385" width="3" height="12" fill="#26a69a"/>
<rect x="709" y="383" width="1" height="26" fill="#ef5350"/>
<rect x="708" y="385" width="3" height="14" fill="#ef5350"/>
<rect x="714" y="351" width="1" height="51" fill="#26a69a"/>
<rect x="713" y="357" width="3" height="42" fill="#26a69a"/>
<rect x="718" y="347" width="1" height="24" fill="#ef5350"/>
<rect x="717" y="357" width="3" height="8" fill="#ef5350"/>
<rect x="723" y="351" width="1" height="24" fill="#26a69a"/>
<rect x="722" y="356" width="3" height="9" fill="#26a69a"/>
<rect x="727" y="341" width="1" height="20" fill="#26a69a"/>
<rect x="726" y="350" width="3" height="7" fill="#26a69a"/>
<rect x="732" y="339" width="1" height="34" fill="#ef5350"/>
<rect x="731" y="350" width="3" height="23" fill="#ef5350"/>
<rect x="736" y="358" width="1" height="27" fill="#ef5350"/>
<rect x="735" y="373" width="3" height="6" fill="#ef5350"/>
<rect x="741" y="360" width="1" height="41" fill="#ef5350"/>
<rect x="740" y="378" width="3" height="15" fill="#ef5350"/>
<rect x="745" y="387" width="1" height="27" fill="#ef5350"/>
<rect x="744" y="393" width="3" height="15" fill="#ef5350"/>
<rect x="750" y="390" width="1" height="18" fill="#26a69a"/>
<rect x="749" y="394" width="3" height="14" fill="#26a69a"/>
<rect x="754" y="388" width="1" height="28" fill="#ef5350"/>
<rect x="753" y="394" width="3" height="12" fill="#ef5350"/>
<rect x="759" y="390" width="1" height="33" fill="#ef5350"/>
<rect x="758" y="405" width="3" height="16" fill="#ef5350"/>
<rect x="764" y="395" width="1" height="31" fill="#26a69a"/>
<rect x="763" y="397" width="3" height="24" fill="#26a69a"/>
<rect x="768" y="396" width="1" height="35" fill="#ef5350"/>
<rect x="767" y="397" width="3" height="18" fill="#ef5350"/>
<rect x="773" y="401" width="1" height="32" fill="#ef5350"/>
<rect x="772" y="414" width="3" height="15" fill="#ef5350"/>
<rect x="777" y="422" width="1" height="42" fill="#ef5350"/>
<rect x="776" y="428" width="3" height="21" fill="#ef5350"/>
<rect x="782" y="443" width="1" height="16" fill="#ef5350"/>
<rect x="781" y="448" width="3" height="1" fill="#ef5350"/>
<rect x="786" y="430" width="1" height="19" fill="#26a69a"/>
<rect x="785" y="437" width="3" height="12" fill="#26a69a"/>
<rect x="791" y="416" width="1" height="26" fill="#26a69a"/>
<rect x="790" y="421" width="3" height="17" fill="#26a69a"/>
<rect x="795" y="413" width="1" height="21" fill="#26a69a"/>
<rect x="794" y="418" width="3" height="4" fill="#26a69a"/>
<rect x="800" y="410" width="1" height="18" fill="#26a69a"/>
<rect x="799" y="414" width="3" height="5" fill="#26a69a"/>
<rect x="805" y="412" width="1" height="8" fill="#ef5350"/>
<rect x="804" y="414" width="3" height="5" fill="#ef5350"/>
<rect x="809" y="412" width="1" height="17" fill="#ef5350"/>
<rect x="808" y="419" width="3" height="7" fill="#ef5350"/>
<rect x="814" y="424" width="1" height="7" fill="#ef5350"/>
<rect x="813" y="425" width="3" height="5" fill="#ef5350"/>
<rect x="818" y="424" width="1" height="11" fill="#ef5350"/>
<rect x="817" y="429" width="3" height="5" fill="#ef5350"/>
<rect x="823" y="434" width="1" height="34" fill="#ef5350"/>
<rect x="822" y="434" width="3" height="26" fill="#ef5350"/>
<rect x="827" y="430" width="1" height="32" fill="#26a69a"/>
<rect x="826" y="435" width="3" height="25" fill="#26a69a"/>
<rect x="832" y="417" width="1" height="19" fill="#26a69a"/>
<rect x="831" y="421" width="3" height="14" fill="#26a69a"/>
<rect x="836" y="417" width="1" height="18" fill="#ef5350"/>
<rect x="835" y="421" width="3" height="11" fill="#ef5350"/>
<rect x="841" y="429" width="1" height="26" fill="#ef5350"/>
<rect x="840" y="431" width="3" height="19" fill="#ef5350"/>
<rect x="846" y="447" width="1" height="4" fill="#26a69a"/>
<rect x="845" y="449" width="3" height="1" fill="#26a69a"/>
<rect x="850" y="442" width="1" height="19" fill="#ef5350"/>
<rect x="849" y="449" width="3" height="4" fill="#ef5350"/>
<rect x="855" y="437" width="1" height="16" fill="#26a69a"/>
<rect x="854" y="442" width="3" height="11" fill="#26a69a"/>
<rect x="859" y="417" width="1" height="33" fill="#26a69a"/>
<rect x="858" y="429" width="3" height="13" fill="#26a69a"/>
<rect x="864" y="424" width="1" height="19" fill="#ef5350"/>
<rect x="863" y="429" width="3" height="13" fill="#ef5350"/>
<rect x="868" y="440" width="1" height="16" fill="#ef5350"/>
<rect x="867" y="441" width="3" height="7" fill="#ef5350"/>
<rect x="873" y="445" width="1" height="17" fill="#ef5350"/>
<rect x="872" y="448" width="3" height="8" fill="#ef5350"/>
<rect x="877" y="448" width="1" height="9" fill="#26a69a"/>
<rect x="876" y="451" width="3" height="5" fill="#26a69a"/>
<rect x="882" y="450" width="1" height="16" fill="#ef5350"/>
<rect x="881" y="451" width="3" height="12" fill="#ef5350"/>
<rect x="887" y="452" width="1" height="27" fill="#ef5350"/>
<rect x="886" y="462" width="3" height="12" fill="#ef5350"/>
<rect x="891" y="465" width="1" height="13" fill="#26a69a"/>
<rect x="890" y="468" width="3" height="6" fill="#26a69a"/>
<rect x="896" y="457" width="1" height="27" fill="#ef5350"/>
<rect x="895" y="468" width="3" height="14" fill="#ef5350"/>
<rect x="900" y="470" width="1" height="26" fill="#ef5350"/>
<rect x="899" y="481" width="3" height="11" fill="#ef5350"/>
<rect x="905" y="465" width="1" height="28" fill="#26a69a"/>
<rect x="904" y="467" width="3" height="25" fill="#26a69a"/>
<rect x="909" y="466" width="1" height="4" fill="#ef5350"/>
<rect x="908" y="467" width="3" height="1" fill="#ef5350"/>
<rect x="914" y="465" width="1" height="10" fill="#ef5350"/>
<rect x="913" y="467" width="3" height="3" fill="#ef5350"/>
<rect x="918" y="459" width="1" height="13" fill="#26a69a"/>
<rect x="917" y="466" width="3" height="4" fill="#26a69a"/>
<rect x="923" y="463" width="1" height="13" fill="#ef5350"/>
<rect x="922" y="466" width="3" height="9" fill="#ef5350"/>
<rect x="928" y="471" width="1" height="8" fill="#ef5350"/>
<rect x="927" y="474" width="3" height="2" fill="#ef5350"/>
<rect x="932" y="474" width="1" height="14" fill="#ef5350"/>
<rect x="931" y="475" width="3" height="12" fill="#ef5350"/>
<rect x="937" y="478" width="1" height="16" fill="#ef5350"/>
<rect x="936" y="487" width="3" height="4" fill="#ef5350"/>
<rect x="941" y="485" width="1" height="6" fill="#26a69a"/>
<rect x="940" y="485" width="3" height="5" fill="#26a69a"/>
<rect x="946" y="484" width="1" height="5" fill="#ef5350"/>
<rect x="945" y="485" width="3" height="2" fill="#ef5350"/>
<rect x="950" y="477" width="1" height="13" fill="#ef5350"/>
<rect x="949" y="486" width="3" height="4" fill="#ef5350"/>
<rect x="955" y="483" width="1" height="7" fill="#26a69a"/>
<rect x="954" y="488" width="3" height="1" fill="#26a69a"/>
<rect x="959" y="486" width="1" height="19" fill="#ef5350"/>
<rect x="958" y="488" width="3" height="14" fill="#ef5350"/>
<rect x="964" y="478" width="1" height="24" fill="#26a69a"/>
<rect x="963" y="479" width="3" height="22" fill="#26a69a"/>
<rect x="969" y="437" width="1" height="45" fill="#26a69a"/>
<rect x="968" y="444" width="3" height="36" fill="#26a69a"/>
<rect x="973" y="438" width="1" height="12" fill="#26a69a"/>
<rect x="972" y="441" width="3" height="4" fill="#26a69a"/>
<rect x="978" y="415" width="1" height="27" fill="#26a69a"/>
<rect x="977" y="426" width="3" height="16" fill="#26a69a"/>
<rect x="982" y="414" width="1" height="21" fill="#26a69a"/>
<rect x="981" y="421" width="3" height="6" fill="#26a69a"/>
<rect x="987" y="410" width="1" height="30" fill="#ef5350"/>
<rect x="986" y="421" width="3" height="4" fill="#ef5350"/>
<rect x="991" y="415" width="1" height="22" fill="#ef5350"/>
<rect x="990" y="424" width="3" height="10" fill="#ef5350"/>
<rect x="996" y="430" width="1" height="21" fill="#ef5350"/>
<rect x="995" y="433" width="3" height="12" fill="#ef5350"/>
<rect x="1000" y="438" width="1" height="15" fill="#ef5350"/>
<rect x="999" y="445" width="3" height="3" fill="#ef5350"/>
<rect x="1005" y="447" width="1" height="4" fill="#ef5350"/>
<rect x="1004" y="447" width="3" height="3" fill="#ef5350"/>
<rect x="1010" y="446" width="1" height="12" fill="#ef5350"/>
<rect x="1009" y="450" width="3" height="4" fill="#ef5350"/>
<rect x="1014" y="443" width="1" height="17" fill="#ef5350"/>
<rect x="1013" y="453" width="3" height="4" fill="#ef5350"/>
<rect x="1019" y="423" width="1" height="34" fill="#26a69a"/>
<rect x="1018" y="429" width="3" height="28" fill="#26a69a"/>
<rect x="1023" y="422" width="1" height="13" fill="#ef5350"/>
<rect x="1022" y="429" width="3" height="4" fill="#ef5350"/>
<rect x="1028" y="432" width="1" height="19" fill="#ef5350"/>
<rect x="1027" y="432" width="3" height="18" fill="#ef5350"/>
<rect x="1032" y="447" width="1" height="13" fill="#ef5350"/>
<rect x="1031" y="449" width="3" height="6" fill="#ef5350"/>
<rect x="1037" y="448" width="1" height="8" fill="#ef5350"/>
<rect x="1036" y="453" width="3" height="2" fill="#ef5350"/>
<rect x="1041" y="452" width="1" height="17" fill="#ef5350"/>
<rect x="1040" y="453" width="3" height="16" fill="#ef5350"/>
<rect x="1046" y="468" width="1" height="27" fill="#ef5350"/>
<rect x="1045" y="468" width="3" height="7" fill="#ef5350"/>
<rect x="1051" y="474" width="1" height="17" fill="#ef5350"/>
<rect x="1050" y="475" width="3" height="14" fill="#ef5350"/>
<rect x="1055" y="475" width="1" height="20" fill="#26a69a"/>
<rect x="1054" y="480" width="3" height="9" fill="#26a69a"/>
<rect x="1060" y="477" width="1" height="11" fill="#ef5350"/>
<rect x="1059" y="480" width="3" height="6" fill="#ef5350"/>
<rect x="1064" y="477" width="1" height="14" fill="#26a69a"/>
<rect x="1063" y="484" width="3" height="1" fill="#26a69a"/>
<rect x="1069" y="484" width="1" height="5" fill="#ef5350"/>
<rect x="1068" y="485" width="3" height="1" fill="#ef5350"/>
<rect x="1073" y="484" width="1" height="17" fill="#ef5350"/>
<rect x="1072" y="486" width="3" height="10" fill="#ef5350"/>
<rect x="1078" y="486" width="1" height="12" fill="#26a69a"/>
<rect x="1077" y="490" width="3" height="7" fill="#26a69a"/>
<rect x="1082" y="480" width="1" height="12" fill="#26a69a"/>
<rect x="1081" y="481" width="3" height="9" fill="#26a69a"/>
<rect x="1087" y="477" width="1" height="9" fill="#ef5350"/>
<rect x="1086" y="481" width="3" height="3" fill="#ef5350"/>
<rect x="1091" y="482" width="1" height="27" fill="#ef5350"/>
<rect x="1090" y="484" width="3" height="19" fill="#ef5350"/>
<rect x="1096" y="497" width="1" height="17" fill="#ef5350"/>
<rect x="1095" y="502" width="3" height="3" fill="#ef5350"/>
<rect x="1101" y="505" width="1" height="50" fill="#ef5350"/>
<rect x="1100" y="505" width="3" height="28" fill="#ef5350"/>
<rect x="1105" y="526" width="1" height="14" fill="#26a69a"/>
<rect x="1104" y="532" width="3" height="1" fill="#26a69a"/>
<rect x="1110" y="518" width="1" height="25" fill="#26a69a"/>
<rect x="1109" y="524" width="3" height="9" fill="#26a69a"/>
<rect x="1114" y="518" width="1" height="19" fill="#ef5350"/>
<rect x="1113" y="524" width="3" height="5" fill="#ef5350"/>
<rect x="1119" y="520" width="1" height="19" fill="#ef5350"/>
<rect x="1118" y="528" width="3" height="6" fill="#ef5350"/>
<rect x="1123" y="531" width="1" height="43" fill="#ef5350"/>
<rect x="1122" y="533" width="3" height="37" fill="#ef5350"/>
<rect x="1128" y="537" width="1" height="52" fill="#26a69a"/>
<rect x="1127" y="546" width="3" height="23" fill="#26a69a"/>
<rect x="1132" y="544" width="1" height="11" fill="#ef5350"/>
<rect x="1131" y="546" width="3" height="1" fill="#ef5350"/>
<rect x="1137" y="545" width="1" height="9" fill="#ef5350"/>
<rect x="1136" y="547" width="3" height="4" fill="#ef5350"/>
<rect x="1142" y="548" width="1" height="12" fill="#ef5350"/>
<rect x="1141" y="550" width="3" height="3" fill="#ef5350"/>
<rect x="1146" y="550" width="1" height="12" fill="#ef5350"/>
<rect x="1145" y="552" width="3" height="9" fill="#ef5350"/>
<rect x="1151" y="557" width="1" height="14" fill="#ef5350"/>
<rect x="1150" y="559" width="3" height="10" fill="#ef5350"/>
</g>
<defs><linearGradient id="ob" gradientUnits="userSpaceOnUse" x1="0" y1="626" x2="0" y2="674"><stop offset="0" stop-color="#4caf50" stop-opacity="0.5"/><stop offset="1" stop-color="#4caf50" stop-opacity="0"/></linearGradient><clipPath id="above70"><rect x="11" y="621" width="1265" height="53.5"/></clipPath></defs>
<polygon clip-path="url(#above70)" points="10,674 10,776.3 12.4,766.8 15.9,757.4 18.3,755.5 21.3,755.5 25.4,738.4 30.1,732.5 34.8,742 39.5,757.4 44.3,758.5 49,761.6 53.7,765.6 57.3,768.5 62,772.7 66.7,769.2 71,768.7 75,778.6 79.7,789.3 85.2,794 89.2,762.1 93.9,757.4 98.6,759.2 103.4,766.3 106.9,764.4 111.6,756.2 116.8,742.5 121.6,752.6 125.8,763.3 130.5,738.4 134.8,731.4 139.5,747.4 144.2,745.5 148.3,729 153,736.6 157.7,731.4 162.4,710.1 167.2,691.2 171.9,684.1 175.4,691.7 180.2,690.7 184.9,693.5 190.1,690.7 194.4,672.3 199.1,667.5 202.6,652.2 208.1,647.5 212.8,630.9 218,635.6 222.7,636.8 225.6,693.5 231,705.8 235.7,701.8 240.4,703.5 244,698.3 248.7,719.5 253.4,723.1 258.2,729 262.9,740.8 267.6,752.6 271.9,763.3 276.6,747.9 280.6,734.9 285.3,746.7 290.1,739.6 294.8,718.4 299.5,707.7 304.3,700.6 309,711.3 313,724.3 317.3,708.9 322,701.8 326.2,726.2 330.6,722.4 335.4,719.5 340.1,716.7 344.8,731.4 348.8,745.1 354.3,731.4 357.8,738.4 362.5,712.4 367.3,717.2 372,721.9 376.7,744.4 381.5,734.9 386.2,734.2 389.7,729 395.2,739.6 399.9,738 403.9,740.3 407.9,743.6 412.6,738 417.4,730.2 422.1,740.3 426.8,732.5 431.6,734.2 435.8,718.4 440.1,702.5 444.8,704.2 448.8,699.5 454.2,687.6 458.3,674.6 463,661.6 467.7,679.4 471.7,695.4 476.5,694 481.2,682.9 485.9,688.8 489.7,708.9 494.4,707.3 499.6,718.4 503.9,740.3 508.6,745.1 513.3,740.8 518.1,759.2 522.1,746.7 526.8,747.9 531.5,739.6 536.3,742 540.3,744.4 545,723.1 549.7,707.7 554.5,714.3 559.2,723.1 563.4,720.7 568.2,705.8 572.4,731.4 577.1,721.9 581.2,729 585.9,776.3 590.6,781 594.6,757.4 600.1,750.3 604.8,758.5 613.1,768 617.8,771.1 624.9,759.7 632,752.2 634.7,756.2 641.3,761.6 645.4,753.8 650.1,749.8 654.1,751.4 658.8,738 663.6,745.5 668.3,752.2 673,753.8 677.3,764.9 681.5,759.2 686.3,756.9 691,758.5 695.7,779.8 700.4,784.5 704.5,774.4 709.2,779.8 713.9,749.1 717.9,752.2 722.6,746.7 726.9,742.7 731.6,755 736.4,758.5 740.6,765.6 745.3,773.4 749.4,762.1 754.8,768 759.5,775.1 764.2,755.5 768.3,764.9 773,771.1 777.7,781 782.4,780.5 786.5,768 790.7,755.5 795.4,753.1 800.2,749.1 804.9,752.6 809.6,757.4 814.4,760.9 818.6,766.3 823.3,780.5 827.4,755 832.1,741.3 836.8,747.9 841.5,761.6 846.3,760.9 850.3,762.6 854.5,752.6 859.3,739.6 864,749.1 868.7,756.2 873,760.9 877.7,754.5 882.4,765.6 887.1,771.5 891.2,766.3 895.9,773.4 899.9,781 904.6,752.2 909.4,752.6 913.6,754.5 917.9,749.8 922.6,756.9 927.3,759.7 932.1,769.6 936.8,772.7 940.8,764.9 944.7,764.9 949.9,768 954.7,766.3 958.9,779.8 963.6,743.2 968.4,707.3 973.1,704.2 977.3,693.5 982.1,688.3 987.3,692.4 992,707.3 996.3,718.4 1001.9,723.8 1008.5,729 1013.7,734.2 1018.5,703 1023.2,707.3 1027.9,727.8 1032.6,733.7 1036.9,734.2 1041.2,749.8 1046.4,756.2 1051.1,768 1055.3,758.5 1060.5,762.6 1065.3,761.6 1069.5,763.3 1073.5,773.4 1078.3,762.6 1081.8,748.4 1087,752.2 1091.7,769.6 1096,773.9 1100.7,794 1105.4,794 1110.2,779.8 1114.9,783.4 1119.2,786.9 1123.2,808.2 1127.9,775.1 1133.3,775.8 1137.4,778.6 1142.1,779.8 1146.8,785.2 1150.8,791.6 1150.8,674" fill="url(#ob)"/>
<g clip-path="url(#rsiclip)">
<polyline points="10,742 11.3,742.9 13.1,744.3 15.2,745.9 17.4,747.5 19.7,749 21.8,750.3 23.8,751.2 25.8,752.1 27.7,752.8 29.7,753.4 31.7,754 33.6,754.5 35.6,754.9 37.6,755.3 39.5,755.5 41.5,755.7 43.5,755.9 45.5,756.2 47.4,756.5 49.5,756.7 51.5,757 53.5,757.3 55.4,757.6 57.3,757.8 59,758.1 60.7,758.4 62.3,758.7 63.8,758.9 65.3,759.1 66.7,759.2 68,759.2 69.3,759 70.4,758.8 71.5,758.6 72.7,758.5 73.8,758.5 75,758.8 76.1,759.2 77.2,759.7 78.4,760.3 79.6,761 80.9,761.6 82.3,762.3 83.9,763.1 85.5,764 87.1,764.8 88.8,765.6 90.4,766.3 91.9,766.9 93.5,767.5 95.1,768 96.7,768.5 98.2,768.9 99.8,769.2 101.4,769.4 103,769.6 104.5,769.8 106.1,769.8 107.7,769.8 109.3,769.6 110.8,769.4 112.4,768.9 114,768.4 115.6,767.8 117.1,767.3 118.7,766.8 120.3,766.4 121.8,766.1 123.3,765.8 124.8,765.5 126.5,765 128.2,764.4 130,763.7 132,762.8 134.1,761.9 136.1,760.8 138.1,759.7 140,758.5 141.7,757.2 143.3,755.8 144.9,754.3 146.4,752.8 147.9,751.4 149.4,750.3 150.9,749.5 152.3,749 153.7,748.7 155.2,748.2 156.9,747.4 158.9,746 161.3,743.8 164.1,741 167,737.8 170,734.6 172.9,731.5 175.4,729 177.7,727 179.7,725.4 181.6,724 183.5,722.7 185.3,721.2 187.3,719.5 189.2,717.6 191.2,715.7 193.2,713.6 195.1,711.4 197.1,709.1 199.1,706.5 201.1,703.7 203.1,700.5 205.1,697.2 207.1,693.8 209.1,690.6 210.9,687.6 212.7,684.9 214.4,682.2 216.1,679.6 217.6,677.2 219.1,675.1 220.4,673.5 221.4,672.2 222.1,671.3 222.7,670.7 223.3,670.3 224.1,670.1 225.1,669.9 226.4,669.9 227.9,670.1 229.5,670.5 231.2,670.9 232.9,671.4 234.5,671.8 236.1,672.1 237.7,672.5 239.3,672.8 240.8,673.2 242.4,673.7 244,674.2 245.6,674.7 247.1,675.2 248.7,675.8 250.3,676.4 251.9,677.2 253.4,678.2 255,679.3 256.7,680.6 258.3,682.1 259.9,683.6 261.5,685.3 262.9,686.9 264.2,688.6 265.4,690.4 266.6,692.2 267.7,694.1 268.8,696.1 270,698.3 271.2,700.6 272.3,703.2 273.5,705.8 274.6,708.5 275.8,711.2 277.1,713.6 278.4,716 279.7,718.5 281.1,720.9 282.5,723.1 284,725 285.3,726.6 286.7,727.8 288,728.6 289.3,729.1 290.6,729.5 292,729.8 293.6,730.2 295.4,730.6 297.3,730.9 299.3,731.1 301.4,731.3 303.4,731.4 305.4,731.4 307.3,731.2 308.9,731.1 310.6,730.8 312.4,730.4 314.6,729.8 317.3,729 320.7,727.8 324.8,726.2 329.3,724.4 333.7,722.6 337.8,721.1 341.3,720 343.9,719.4 346,719.1 347.8,719.1 349.4,719.2 351.1,719.4 353.1,719.5 355.3,719.7 357.6,720 360,720.4 362.5,720.8 364.9,721.3 367.3,721.9 369.6,722.6 372,723.3 374.4,724.2 376.7,725.1 379.1,725.9 381.5,726.6 383.8,727.3 386.3,727.9 388.7,728.5 391.1,729 393.4,729.6 395.6,730.2 397.7,730.8 399.7,731.5 401.7,732.2 403.6,732.9 405.5,733.4 407.4,733.7 409.4,733.7 411.3,733.5 413.1,733.2 415.1,732.8 417.1,732.5 419.3,732.5 421.7,732.9 424.4,733.5 427.2,734.3 429.9,735 432.4,735.5 434.6,735.6 436.4,735.3 437.8,734.7 439,733.9 440.1,732.9 441.4,731.9 442.9,730.9 444.7,729.9 446.7,728.8 448.7,727.7 450.8,726.5 452.8,725.2 454.7,723.8 456.4,722.3 458,720.6 459.4,718.9 460.9,717.1 462.5,715.3 464.2,713.6 466,712 467.9,710.4 469.9,708.8 472,707.2 474,705.7 476,704.2 478,702.7 480,701.1 482,699.6 484,698.2 486,697 487.8,695.9 489.5,695.1 491.2,694.3 492.8,693.8 494.4,693.4 495.9,693.2 497.3,693.1 498.6,693.2 499.7,693.5 500.8,693.9 501.9,694.5 503.1,695.2 504.4,695.9 505.7,696.6 507.2,697.2 508.6,698 510.2,698.9 511.9,700.1 513.8,701.8 515.9,704.1 518.2,707 520.6,710.1 523.1,713.4 525.6,716.4 528,719.1 530.4,721.4 532.9,723.5 535.4,725.5 537.8,727.3 540.1,728.8 542.2,730.2 544,731.2 545.7,732 547.2,732.5 548.6,732.9 550.1,733.3 551.6,733.7 553.2,734.2 554.8,734.7 556.4,735.2 557.9,735.5 559.5,735.7 561.1,735.6 562.6,735.2 564.2,734.6 565.7,733.8 567.3,732.9 568.9,732.1 570.5,731.4 572.2,730.7 574,730 575.8,729.4 577.6,728.9 579.4,728.5 581.2,728.5 582.9,728.9 584.7,729.6 586.4,730.5 588.2,731.5 590,732.5 591.8,733.2 593.7,733.7 595.6,734 597.5,734.3 599.5,734.6 601.5,735.2 603.6,736.1 605.9,737.4 608.3,739.2 610.9,741.1 613.3,743.1 615.7,745.1 617.8,746.7 619.6,748.1 621,749.3 622.4,750.4 623.7,751.5 625.3,752.6 627.3,753.8 629.7,755.3 632.5,757 635.6,758.7 638.6,760.2 641.6,761.4 644.2,762.1 646.4,762 648.4,761.4 650.3,760.4 652.1,759.2 654,758.1 656,757.4 658.2,756.9 660.5,756.5 662.8,756.3 665.2,756 667.7,755.8 670.2,755.5 672.9,755 675.7,754.5 678.6,753.9 681.5,753.4 684.2,753.1 686.7,753.1 689,753.4 691,754.1 692.9,754.9 694.8,755.8 696.6,756.7 698.5,757.4 700.5,757.9 702.4,758.5 704.3,759 706.2,759.5 708.3,759.9 710.4,760.2 712.6,760.4 714.9,760.6 717.3,760.7 719.7,760.7 722.1,760.8 724.5,760.9 726.9,761 729.3,761.1 731.6,761.2 734,761.3 736.4,761.4 738.7,761.6 741.1,761.9 743.6,762.2 746.1,762.6 748.5,762.9 750.8,763.1 752.9,763.3 754.8,763.2 756.4,763.1 757.9,762.9 759.4,762.6 760.8,762.4 762.4,762.1 763.9,761.7 765.5,761.3 767.1,760.8 768.7,760.4 770.2,760.2 771.8,760.2 773.4,760.6 774.9,761.2 776.4,762 777.9,762.9 779.6,763.7 781.3,764.4 783,765.1 784.9,765.7 786.7,766.3 788.7,766.8 790.8,767.2 793.1,767.3 795.6,767.1 798.2,766.7 801.1,766 803.9,765.4 806.8,764.8 809.6,764.4 812.4,764.3 815.1,764.4 817.9,764.6 820.7,764.7 823.4,764.7 826.2,764.4 829,763.9 831.9,763.2 834.7,762.3 837.6,761.3 840.2,760.5 842.7,759.7 845,759.1 847,758.6 848.9,758.1 850.8,757.6 852.6,757.2 854.5,756.9 856.4,756.6 858.2,756.5 859.9,756.4 861.8,756.4 863.9,756.3 866.4,756.2 869.3,755.9 872.7,755.6 876.3,755.2 880,754.9 883.4,754.8 886.4,755 889,755.7 891.2,756.7 893.2,758 895.1,759.2 897.2,760.3 899.4,760.9 902,761 904.9,760.8 907.8,760.3 910.7,759.8 913.5,759.4 916,759.2 918.3,759.4 920.4,759.8 922.3,760.2 924.2,760.7 926,761.2 927.8,761.6 929.5,761.9 931,762.3 932.5,762.6 934,762.9 935.5,763.1 937.3,763.3 939.2,763.4 941.2,763.4 943.4,763.4 945.5,763.3 947.5,763.3 949.5,763.3 951.2,763.3 952.8,763.4 954.4,763.6 955.9,763.6 957.4,763.5 958.9,763.3 960.5,762.8 962.1,762.2 963.6,761.4 965.2,760.6 966.8,759.6 968.4,758.5 969.9,757.4 971.5,756.1 973.1,754.7 974.7,753.2 976.2,751.7 977.8,750.3 979.4,748.8 980.9,747.4 982.4,746 983.9,744.5 985.6,742.9 987.3,741.3 989.1,739.5 991,737.6 993,735.7 995.1,733.7 997.1,731.9 999.1,730.2 1001.1,728.7 1003.1,727.4 1005.1,726.1 1007.1,724.9 1009.1,723.7 1010.9,722.4 1012.6,720.9 1014.3,719.3 1015.9,717.7 1017.5,716.1 1018.9,714.7 1020.4,713.6 1021.7,712.8 1022.8,712.2 1023.9,711.7 1025,711.4 1026.2,711.2 1027.4,711.3 1028.9,711.5 1030.5,711.8 1032.2,712.4 1033.8,713.1 1035.4,713.9 1036.9,714.8 1038.2,715.9 1039.4,717.2 1040.4,718.6 1041.5,720.1 1042.7,721.6 1044,723.1 1045.4,724.6 1047,726.2 1048.6,727.9 1050.2,729.5 1051.8,731.1 1053.4,732.5 1055,733.9 1056.6,735.1 1058.2,736.3 1059.8,737.4 1061.3,738.5 1062.9,739.6 1064.5,740.8 1066.1,741.9 1067.6,743 1069.2,744.1 1070.8,745.1 1072.4,746 1073.9,746.8 1075.4,747.4 1076.9,747.9 1078.5,748.5 1080.1,749.3 1081.8,750.3 1083.6,751.6 1085.6,753.1 1087.6,754.8 1089.6,756.5 1091.6,758.2 1093.6,759.7 1095.6,761.1 1097.6,762.5 1099.5,763.9 1101.5,765.1 1103.5,766.3 1105.4,767.3 1107.4,768.1 1109.5,768.8 1111.5,769.4 1113.5,769.9 1115.4,770.4 1117.3,771.1 1118.9,771.8 1120.4,772.6 1121.8,773.5 1123.3,774.3 1124.9,775.1 1126.7,775.8 1128.9,776.3 1131.3,776.8 1133.8,777.2 1136.3,777.6 1138.7,778 1140.9,778.6 1142.9,779.4 1144.9,780.4 1146.7,781.4 1148.4,782.4 1149.8,783.2 1150.8,783.8" fill="none" stroke="#f7c525" stroke-width="1" stroke-linejoin="round"/>
<polyline points="10,776.3 12.4,766.8 15.9,757.4 18.3,755.5 21.3,755.5 25.4,738.4 30.1,732.5 34.8,742 39.5,757.4 44.3,758.5 49,761.6 53.7,765.6 57.3,768.5 62,772.7 66.7,769.2 71,768.7 75,778.6 79.7,789.3 85.2,794 89.2,762.1 93.9,757.4 98.6,759.2 103.4,766.3 106.9,764.4 111.6,756.2 116.8,742.5 121.6,752.6 125.8,763.3 130.5,738.4 134.8,731.4 139.5,747.4 144.2,745.5 148.3,729 153,736.6 157.7,731.4 162.4,710.1 167.2,691.2 171.9,684.1 175.4,691.7 180.2,690.7 184.9,693.5 190.1,690.7 194.4,672.3 199.1,667.5 202.6,652.2 208.1,647.5 212.8,630.9 218,635.6 222.7,636.8 225.6,693.5 231,705.8 235.7,701.8 240.4,703.5 244,698.3 248.7,719.5 253.4,723.1 258.2,729 262.9,740.8 267.6,752.6 271.9,763.3 276.6,747.9 280.6,734.9 285.3,746.7 290.1,739.6 294.8,718.4 299.5,707.7 304.3,700.6 309,711.3 313,724.3 317.3,708.9 322,701.8 326.2,726.2 330.6,722.4 335.4,719.5 340.1,716.7 344.8,731.4 348.8,745.1 354.3,731.4 357.8,738.4 362.5,712.4 367.3,717.2 372,721.9 376.7,744.4 381.5,734.9 386.2,734.2 389.7,729 395.2,739.6 399.9,738 403.9,740.3 407.9,743.6 412.6,738 417.4,730.2 422.1,740.3 426.8,732.5 431.6,734.2 435.8,718.4 440.1,702.5 444.8,704.2 448.8,699.5 454.2,687.6 458.3,674.6 463,661.6 467.7,679.4 471.7,695.4 476.5,694 481.2,682.9 485.9,688.8 489.7,708.9 494.4,707.3 499.6,718.4 503.9,740.3 508.6,745.1 513.3,740.8 518.1,759.2 522.1,746.7 526.8,747.9 531.5,739.6 536.3,742 540.3,744.4 545,723.1 549.7,707.7 554.5,714.3 559.2,723.1 563.4,720.7 568.2,705.8 572.4,731.4 577.1,721.9 581.2,729 585.9,776.3 590.6,781 594.6,757.4 600.1,750.3 604.8,758.5 613.1,768 617.8,771.1 624.9,759.7 632,752.2 634.7,756.2 641.3,761.6 645.4,753.8 650.1,749.8 654.1,751.4 658.8,738 663.6,745.5 668.3,752.2 673,753.8 677.3,764.9 681.5,759.2 686.3,756.9 691,758.5 695.7,779.8 700.4,784.5 704.5,774.4 709.2,779.8 713.9,749.1 717.9,752.2 722.6,746.7 726.9,742.7 731.6,755 736.4,758.5 740.6,765.6 745.3,773.4 749.4,762.1 754.8,768 759.5,775.1 764.2,755.5 768.3,764.9 773,771.1 777.7,781 782.4,780.5 786.5,768 790.7,755.5 795.4,753.1 800.2,749.1 804.9,752.6 809.6,757.4 814.4,760.9 818.6,766.3 823.3,780.5 827.4,755 832.1,741.3 836.8,747.9 841.5,761.6 846.3,760.9 850.3,762.6 854.5,752.6 859.3,739.6 864,749.1 868.7,756.2 873,760.9 877.7,754.5 882.4,765.6 887.1,771.5 891.2,766.3 895.9,773.4 899.9,781 904.6,752.2 909.4,752.6 913.6,754.5 917.9,749.8 922.6,756.9 927.3,759.7 932.1,769.6 936.8,772.7 940.8,764.9 944.7,764.9 949.9,768 954.7,766.3 958.9,779.8 963.6,743.2 968.4,707.3 973.1,704.2 977.3,693.5 982.1,688.3 987.3,692.4 992,707.3 996.3,718.4 1001.9,723.8 1008.5,729 1013.7,734.2 1018.5,703 1023.2,707.3 1027.9,727.8 1032.6,733.7 1036.9,734.2 1041.2,749.8 1046.4,756.2 1051.1,768 1055.3,758.5 1060.5,762.6 1065.3,761.6 1069.5,763.3 1073.5,773.4 1078.3,762.6 1081.8,748.4 1087,752.2 1091.7,769.6 1096,773.9 1100.7,794 1105.4,794 1110.2,779.8 1114.9,783.4 1119.2,786.9 1123.2,808.2 1127.9,775.1 1133.3,775.8 1137.4,778.6 1142.1,779.8 1146.8,785.2 1150.8,791.6" fill="none" stroke="#7e57c2" stroke-width="2.5" stroke-linejoin="round" stroke-linecap="round"/>
</g>
<rect x="11" y="620" width="1332" height="1" fill="#e0e3eb"/>
<rect x="11" y="820" width="1332" height="1" fill="#e0e3eb"/>
<rect x="1276" y="28" width="1" height="819" fill="#e0e3eb"/>
</svg>
<div class="t" style="left:18px;top:35px">Dogecoin / TetherUS · 1D · Binance</div>
<div class="t" style="left:214px;top:35px">O<span class="r">0.09277</span></div>
<div class="t" style="left:272px;top:35px">H<span class="r">0.09362</span></div>
<div class="t" style="left:329px;top:35px">L<span class="r">0.08790</span></div>
<div class="t" style="left:385px;top:35px">C<span class="r">0.08872</span></div>
<div class="t r" style="left:442px;top:35px;transform:scaleX(0.96);transform-origin:0 50%">−0.00405 (−4.37%)</div>
<div class="t" style="left:18px;top:52px;transform:scaleX(0.97);transform-origin:0 50%">EMA (20, close) <span style="color:#2962ff"> 0.10618</span></div>
<div class="t" style="left:18px;top:69px;transform:scaleX(0.97);transform-origin:0 50%">SMA (50, close) <span style="color:#f23645"> 0.12401</span></div>
<div class="t" style="left:18px;top:629px;transform:scaleX(0.96);transform-origin:0 50%">RSI (14, close) <span style="color:#7e57c2"> 28.46</span> <span style="color:#f7c525"> 31.10</span></div>
<div class="t " style="left:1285px;top:67.0px">0.30000</div>
<div class="t " style="left:1285px;top:113.89999999999992px">0.28000</div>
<div class="t " style="left:1285px;top:160.79999999999995px">0.26000</div>
<div class="t " style="left:1285px;top:207.7px">0.24000</div>
<div class="t " style="left:1285px;top:254.59999999999997px">0.22000</div>
<div class="t " style="left:1285px;top:301.49999999999994px">0.20000</div>
<div class="t " style="left:1285px;top:348.4px">0.18000</div>
<div class="t " style="left:1285px;top:442.19999999999993px">0.14000</div>
<div class="t " style="left:1285px;top:536.0px">0.10000</div>
<div class="t " style="left:1285px;top:639.0px">80.00</div>
<div class="t " style="left:1285px;top:695.66px">60.00</div>
<div class="t " style="left:1285px;top:752.32px">40.00</div>
<div class="t " style="left:1285px;top:808.98px">20.00</div>
<div class="t" style="left:86.54000000000008px;width:80px;text-align:center;top:827px;">Jul</div>
<div class="t" style="left:227.71400000000006px;width:80px;text-align:center;top:827px;">Aug</div>
<div class="t" style="left:368.88800000000003px;width:80px;text-align:center;top:827px;">Sep</div>
<div class="t" style="left:505.50800000000004px;width:80px;text-align:center;top:827px;">Oct</div>
<div class="t" style="left:646.682px;width:80px;text-align:center;top:827px;">Nov</div>
<div class="t" style="left:783.3020000000001px;width:80px;text-align:center;top:827px;">Dec</div>
<div class="t" style="left:924.4760000000001px;width:80px;text-align:center;top:827px;font-weight:bold;">2026</div>
<div class="t" style="left:1065.65px;width:80px;text-align:center;top:827px;">Feb</div>
<div class="t" style="left:1193.162px;width:80px;text-align:center;top:827px;">Mar</div>
<div class="b" style="left:1277px;top:88px;width:56px;height:17px;background:#0000ff;border-radius:0 3px 3px 0"></div><div class="t" style="left:1285px;top:89.5px;color:#fff;font-weight:normal;-webkit-text-stroke:0.45px currentColor;transform:scaleX(0.965);transform-origin:0 50%">0.29000</div>
<div class="b" style="left:1277px;top:393px;width:56px;height:17px;background:#0000ff;border-radius:0 3px 3px 0"></div><div class="t" style="left:1285px;top:394.5px;color:#fff;font-weight:normal;-webkit-text-stroke:0.45px currentColor;transform:scaleX(0.965);transform-origin:0 50%">0.16000</div>
<div class="b" style="left:1226px;top:470px;width:50px;height:17px;background:#f23645;border-radius:3px 0 0 3px"></div><div class="t" style="left:1230.5px;top:471.5px;color:#fff;font-weight:normal;-webkit-text-stroke:0.45px currentColor;transform:scaleX(0.89);transform-origin:0 50%">SMA:MA</div>
<div class="b" style="left:1277px;top:470px;width:56px;height:17px;background:#f23645;border-radius:0 3px 3px 0"></div><div class="t" style="left:1285px;top:471.5px;color:#fff;font-weight:normal;-webkit-text-stroke:0.45px currentColor;transform:scaleX(0.963);transform-origin:0 50%">0.12401</div>
<div class="b" style="left:1277px;top:487px;width:56px;height:17px;background:#0000ff;border-radius:0 3px 3px 0"></div><div class="t" style="left:1285px;top:488.5px;color:#fff;font-weight:normal;-webkit-text-stroke:0.45px currentColor;transform:scaleX(0.965);transform-origin:0 50%">0.12000</div>
<div class="b" style="left:1245px;top:520px;width:31px;height:17px;background:#2962ff;border-radius:3px 0 0 3px"></div><div class="t" style="left:1249.5px;top:521.5px;color:#fff;font-weight:normal;-webkit-text-stroke:0.45px currentColor;transform:scaleX(0.888);transform-origin:0 50%">EMA</div>
<div class="b" style="left:1277px;top:520px;width:56px;height:17px;background:#2962ff;border-radius:0 3px 3px 0"></div><div class="t" style="left:1285px;top:521.5px;color:#fff;font-weight:normal;-webkit-text-stroke:0.45px currentColor;transform:scaleX(0.963);transform-origin:0 50%">0.10618</div>
<div class="b" style="left:1210px;top:561px;width:66px;height:17px;background:#ef5350;border-radius:3px 0 0 3px"></div><div class="t" style="left:1214.5px;top:562.5px;color:#fff;font-weight:normal;-webkit-text-stroke:0.45px currentColor;transform:scaleX(0.843);transform-origin:0 50%">DOGEUSDT</div>
<div class="b" style="left:1277px;top:561px;width:60px;height:45px;background:#ef5350;border-radius:0 3px 3px 0"></div>
<div class="t" style="left:1285px;top:563px;color:#fff;-webkit-text-stroke:0.45px #fff;transform:scaleX(0.963);transform-origin:0 50%">0.08872</div>
<div class="t" style="left:1285px;top:577px;color:#fff;-webkit-text-stroke:0.45px #fff;transform:scaleX(0.90);transform-origin:0 50%">−48.14%</div>
<div class="t" style="left:1285px;top:591px;color:#f9c9c8;-webkit-text-stroke:0.45px #f9c9c8;transform:scaleX(0.948);transform-origin:0 50%">08:30:31</div>
<div class="b" style="left:1197px;top:767px;width:79px;height:17px;background:#fdd835;border-radius:3px 0 0 3px"></div><div class="t" style="left:1201.6px;top:768.5px;color:#131722;font-weight:normal;transform:scaleX(0.905);transform-origin:0 50%">RSI-based MA</div>
<div class="b" style="left:1277px;top:767px;width:43px;height:17px;background:#fdd835;border-radius:0 3px 3px 0"></div><div class="t" style="left:1285px;top:768.5px;color:#131722;font-weight:normal;transform:scaleX(0.967);transform-origin:0 50%">31.10</div>
<div class="b" style="left:1251px;top:785px;width:25px;height:16px;background:#7e57c2;border-radius:3px 0 0 3px"></div><div class="t" style="left:1256.2px;top:786.0px;color:#fff;font-weight:normal;-webkit-text-stroke:0.45px currentColor;transform:scaleX(0.83);transform-origin:0 50%">RSI</div>
<div class="b" style="left:1277px;top:785px;width:43px;height:16px;background:#7e57c2;border-radius:0 3px 3px 0"></div><div class="t" style="left:1285px;top:786.0px;color:#fff;font-weight:normal;-webkit-text-stroke:0.45px currentColor;transform:scaleX(0.967);transform-origin:0 50%">28.46</div>
<div style="position:absolute;left:1280px;top:31px;width:60px;height:26px;border:1px solid #eef0f3;border-radius:4px;box-sizing:border-box"></div>
<div class="t" style="left:1289px;top:38px;transform:scaleX(0.826);transform-origin:0 50%">USDT</div>
<svg width="1354" height="908" viewBox="0 0 1354 908" style="pointer-events:none">
<g transform="translate(1151.4,607.3)"><path d="M9.18,-2.81 A9.6,9.6 0 1 1 3.28,-9.02" fill="none" stroke="#9c27b0" stroke-width="1.6"/><path d="M2.4,-4.6 L-3.6,0 L3.8,0 L-3,5.3" fill="none" stroke="#9c27b0" stroke-width="1.7" stroke-linejoin="round" stroke-linecap="round"/><circle cx="7.1" cy="-6.8" r="2.5" fill="#f23645"/></g>
<g transform="translate(12,870)" fill="#131722"><path d="M0,0 H12 V15 H6 V6 H0 Z"/><circle cx="17" cy="3" r="3"/><path d="M23,0 H30 L23,15 H16 Z"/></g>
</svg>
<div style="position:absolute;left:49px;top:865.5px;font-size:20.4px;font-weight:bold;line-height:24px;color:#131722;white-space:pre">TradingView</div>
</body></html>
